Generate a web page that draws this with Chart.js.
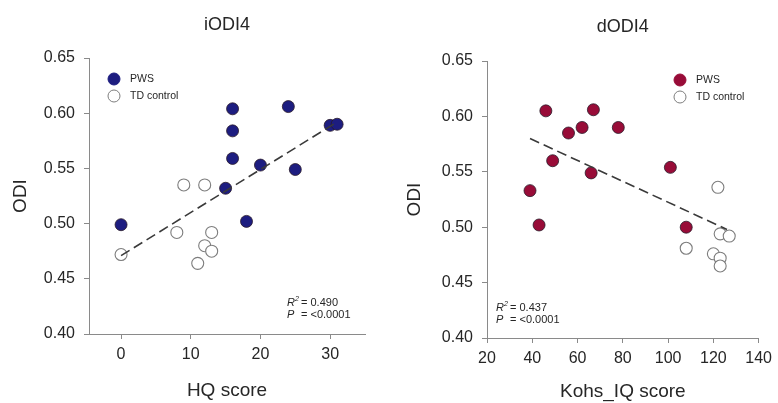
<!DOCTYPE html>
<html>
<head>
<meta charset="utf-8">
<script src="https://cdn.jsdelivr.net/npm/chart.js@4.4.0/dist/chart.umd.min.js"></script>
<style>
  html, body { margin: 0; padding: 0; background: #fff; }
  #wrap { position: relative; width: 778px; height: 403px; }
  .box { position: absolute; top: 0; width: 389px; height: 403px; }
</style>
</head>
<body>
<div id="wrap">
  <div class="box" style="left:0"><canvas id="hqChart" width="389" height="403"></canvas></div>
  <div class="box" style="left:389px"><canvas id="iqChart" width="389" height="403"></canvas></div>
</div>
<script>
/* data */
const odiTicks = [0.40, 0.45, 0.50, 0.55, 0.60, 0.65];

const hqTicks = [0, 10, 20, 30];
const hqPwsX = [0, 15, 16, 16, 16, 18, 20, 24, 25, 30, 31];
const hqPwsY = [0.499, 0.532, 0.604, 0.584, 0.559, 0.502, 0.553, 0.606, 0.549, 0.589, 0.590];
const hqTdX = [0, 8, 9, 11, 12, 12, 13, 13];
const hqTdY = [0.472, 0.492, 0.535, 0.464, 0.535, 0.480, 0.492, 0.475];
const hqFitX = [0, 31];
const hqFitY = [0.471, 0.592];

const iqTicks = [20, 40, 60, 80, 100, 120, 140];
const iqPwsX = [39, 43, 46, 49, 56, 62, 66, 67, 78, 101, 108];
const iqPwsY = [0.533, 0.502, 0.605, 0.560, 0.585, 0.590, 0.549, 0.606, 0.590, 0.554, 0.500];
const iqTdX = [108, 120, 122, 123, 123, 123, 127];
const iqTdY = [0.481, 0.476, 0.536, 0.494, 0.472, 0.465, 0.492];
const iqFitX = [39, 126];
const iqFitY = [0.580, 0.498];

const FONT = "'Liberation Sans', Arial, sans-serif";
const TXT = '#262626';
const AXIS = '#8a8a8a';
Chart.defaults.font.family = FONT;

const pts = (xs, ys) => xs.map((x, i) => ({ x: x, y: ys[i] }));

/* plugin: judul, legenda, anotasi R² / P */
const decor = {
  id: 'decor',
  afterDraw(chart, args, o) {
    const { ctx, chartArea: a } = chart;
    ctx.save();
    // judul
    ctx.fillStyle = TXT;
    ctx.font = '18px ' + FONT;
    ctx.textAlign = 'center';
    ctx.textBaseline = 'middle';
    ctx.fillText(o.title, (a.left + a.right) / 2, o.titleY);

    // legenda
    ctx.textAlign = 'left';
    ctx.font = '10.5px ' + FONT;
    o.legend.forEach((it, i) => {
      const x = a.left + o.legX, y = a.top + o.legY + i * 17;
      ctx.beginPath();
      ctx.arc(x, y, 6, 0, Math.PI * 2);
      ctx.fillStyle = it.fill;
      ctx.fill();
      ctx.lineWidth = 1;
      ctx.strokeStyle = it.stroke;
      ctx.stroke();
      ctx.fillStyle = TXT;
      ctx.fillText(it.label, x + 16, y);
    });

    // anotasi
    const ax = o.annX, ay = o.annY;
    ctx.fillStyle = TXT;
    ctx.font = 'italic 11px ' + FONT;
    ctx.fillText('R', ax, ay);
    ctx.fillText('P', ax, ay + 12);
    ctx.font = 'italic 7px ' + FONT;
    ctx.fillText('2', ax + 8, ay - 4);
    ctx.font = '11px ' + FONT;
    ctx.fillText('= ' + o.r2, ax + 14, ay);
    ctx.fillText('= <0.0001', ax + 14, ay + 12);
    ctx.restore();
  }
};

function buildChart(id, c) {
  return new Chart(document.getElementById(id), {
    type: 'scatter',
    data: {
      datasets: [
        {
          type: 'line',
          data: pts(c.fitX, c.fitY),
          borderColor: '#3a3a3a',
          borderWidth: 1.6,
          borderDash: [10, 5],
          pointRadius: 0,
          fill: false,
          order: 0
        },
        {
          data: pts(c.pwsX, c.pwsY),
          backgroundColor: c.color,
          borderColor: '#2a1a2a',
          borderWidth: 0.8,
          pointRadius: 6,
          order: 1
        },
        {
          data: pts(c.tdX, c.tdY),
          backgroundColor: '#fff',
          borderColor: '#7d7d7d',
          borderWidth: 1.1,
          pointRadius: 6,
          order: 2
        }
      ]
    },
    options: {
      responsive: false,
      devicePixelRatio: 1,
      animation: false,
      layout: { padding: { left: 0, right: c.padRight, top: c.padTop, bottom: 0 } },
      scales: {
        x: {
          type: 'linear',
          min: c.xMin,
          max: c.xMax,
          afterBuildTicks: s => { s.ticks = c.xTicks.map(v => ({ value: v })); },
          afterFit: s => { s.height = c.xH; },
          border: { color: AXIS, width: 1 },
          grid: { drawOnChartArea: false, tickLength: 5, color: AXIS },
          ticks: { color: TXT, font: { size: 16 }, padding: 6, maxRotation: 0 },
          title: { display: true, text: c.xTitle, color: TXT, font: { size: 19 }, padding: { top: 0, bottom: c.xTitlePad } }
        },
        y: {
          min: 0.40,
          max: 0.65,
          afterBuildTicks: s => { s.ticks = odiTicks.map(v => ({ value: v })); },
          afterFit: s => { s.width = c.yW; },
          border: { color: AXIS, width: 1 },
          grid: { drawOnChartArea: false, tickLength: 5, color: AXIS },
          ticks: { color: TXT, font: { size: 16 }, padding: 9, callback: v => v.toFixed(2) },
          title: { display: true, text: 'ODI', color: TXT, font: { size: 19 }, padding: { top: c.yTitlePad, bottom: 0 } }
        }
      },
      plugins: {
        legend: { display: false },
        tooltip: { enabled: false },
        decor: c.decor
      }
    },
    plugins: [decor]
  });
}

buildChart('hqChart', {
  pwsX: hqPwsX, pwsY: hqPwsY, tdX: hqTdX, tdY: hqTdY, fitX: hqFitX, fitY: hqFitY,
  color: '#1d1d80', xTicks: hqTicks, xMin: -4.6, xMax: 35, xTitle: 'HQ score',
  padRight: 24, padTop: 58, xH: 69, yW: 89, xTitlePad: 1, yTitlePad: 9,
  decor: {
    title: 'iODI4', titleY: 25, legX: 25, legY: 21,
    legend: [{ label: 'PWS', fill: '#1d1d80', stroke: '#1d1d80' }, { label: 'TD control', fill: '#fff', stroke: '#7d7d7d' }],
    annX: 287, annY: 303, r2: '0.490'
  }
});

buildChart('iqChart', {
  pwsX: iqPwsX, pwsY: iqPwsY, tdX: iqTdX, tdY: iqTdY, fitX: iqFitX, fitY: iqFitY,
  color: '#980c38', xTicks: iqTicks, xMin: 20, xMax: 140, xTitle: 'Kohs_IQ score',
  padRight: 16, padTop: 61, xH: 65, yW: 98, xTitlePad: 0, yTitlePad: 14,
  decor: {
    title: 'dODI4', titleY: 27, legX: 193, legY: 19,
    legend: [{ label: 'PWS', fill: '#980c38', stroke: '#980c38' }, { label: 'TD control', fill: '#fff', stroke: '#7d7d7d' }],
    annX: 107, annY: 308, r2: '0.437'
  }
});
</script>
</body>
</html>
